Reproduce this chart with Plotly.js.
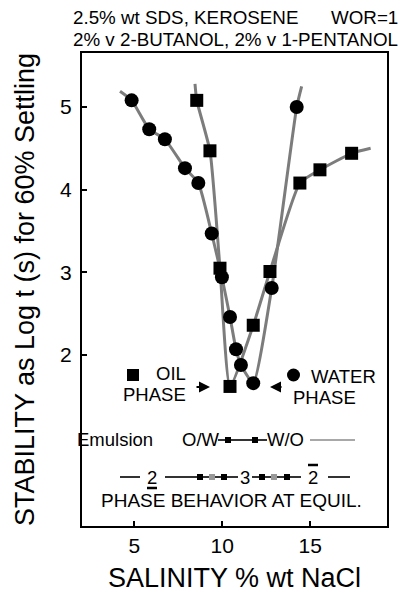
<!DOCTYPE html>
<html>
<head>
<meta charset="utf-8">
<script src="https://cdn.plot.ly/plotly-3.0.1.min.js"></script>
<style>html,body{margin:0;padding:0;background:#fff;}#chart{width:401px;height:593px;}</style>
</head>
<body>
<div id="chart"></div>
<script>
// ---- data ----
// Oil phase (squares)
const oilX = [8.55, 9.30, 9.87, 10.44, 11.76, 12.71, 14.41, 15.55, 17.35];
const oilY = [5.08, 4.47, 3.05, 1.62, 2.36, 3.01, 4.08, 4.24, 4.44];
const oilLineStart = [8.45, 5.28];
const oilLineEnd = [18.43, 4.50];
// Water phase (circles)
const waterX = [4.85, 5.85, 6.74, 7.88, 8.64, 9.40, 9.98, 10.44, 10.78, 11.06, 11.76, 12.81, 14.23];
const waterY = [5.08, 4.73, 4.61, 4.26, 4.08, 3.47, 2.94, 2.46, 2.07, 1.88, 1.66, 2.81, 5.00];
const waterLineStart = [4.19, 5.19];
const waterLineEnd = [14.51, 5.25];
// ticks
const xTicks = [5, 10, 15];
const yTicks = [2, 3, 4, 5];

// ---- layout helpers (pixel -> paper) ----
const L = 82, R = 387, T = 53, B = 526;
const W = R - L, H = B - T;
const px = v => (v - L) / W;
const py = v => (B - v) / H;

const FONT = 'Liberation Sans, Arial, Helvetica, sans-serif';
const lineColor = '#7c7c7c';

const traces = [
  {x: [oilLineStart[0]].concat(oilX, [oilLineEnd[0]]),
   y: [oilLineStart[1]].concat(oilY, [oilLineEnd[1]]),
   mode: 'lines', line: {color: lineColor, width: 3, shape: 'spline', smoothing: 0.5},
   hoverinfo: 'skip', name: 'oil curve'},
  {x: [waterLineStart[0]].concat(waterX, [waterLineEnd[0]]),
   y: [waterLineStart[1]].concat(waterY, [waterLineEnd[1]]),
   mode: 'lines', line: {color: lineColor, width: 3, shape: 'spline', smoothing: 0.5},
   hoverinfo: 'skip', name: 'water curve'},
  {x: oilX, y: oilY, mode: 'markers', name: 'OIL PHASE',
   marker: {symbol: 'square', size: 13, color: '#000'}},
  {x: waterX, y: waterY, mode: 'markers', name: 'WATER PHASE',
   marker: {symbol: 'circle', size: 14, color: '#000'}}
];

function txt(text, x, y, xanchor, size) {
  return {text: text, xref: 'paper', yref: 'paper', x: px(x), y: py(y),
          xanchor: xanchor || 'left', yanchor: 'middle', showarrow: false,
          borderpad: 0, borderwidth: 0,
          font: {family: FONT, size: size || 18.5, color: '#000'}};
}
function arrow(xTip, y, dx) {
  return {text: '', xref: 'paper', yref: 'paper', x: px(xTip), y: py(y),
          showarrow: true, ax: dx, ay: 0, arrowhead: 2, arrowsize: 1.1,
          arrowwidth: 2, arrowcolor: '#000'};
}

const annotations = [
  txt('2.5% wt SDS, KEROSENE', 73, 17.5, 'left', 18.8),
  txt('WOR=1', 398, 17.5, 'right', 18.8),
  txt('2% v 2-BUTANOL, 2% v 1-PENTANOL', 73, 39, 'left', 18.8),
  txt('OIL', 186, 373, 'right'),
  txt('PHASE', 186, 394, 'right'),
  txt('WATER', 311, 376, 'left'),
  txt('PHASE', 293, 397, 'left'),
  arrow(210, 387, -15),
  arrow(270, 387, 13),
  txt('Emulsion', 77, 440, 'left'),
  txt('O/W', 182, 440, 'left'),
  txt('W/O', 267, 440, 'left'),
  txt('2', 152, 477, 'center'),
  txt('3', 245, 477, 'center'),
  txt('2', 313, 477, 'center'),
  txt('PHASE BEHAVIOR AT EQUIL.', 231, 500, 'center', 19)
];

function hline(x0, x1, y, color, w) {
  return {type: 'line', xref: 'paper', yref: 'paper', x0: px(x0), x1: px(x1),
          y0: py(y), y1: py(y), line: {color: color, width: w || 2}};
}
function sq(xc, yc, s, color) {
  return {type: 'rect', xref: 'paper', yref: 'paper',
          x0: px(xc - s / 2), x1: px(xc + s / 2), y0: py(yc + s / 2), y1: py(yc - s / 2),
          fillcolor: color, line: {width: 0}};
}

const shapes = [
  // symbol keys
  sq(133, 375, 12, '#000'),
  {type: 'circle', xref: 'paper', yref: 'paper', x0: px(287), x1: px(300), y0: py(381.5), y1: py(368.5),
   fillcolor: '#000', line: {width: 0}},
  // emulsion row
  hline(218, 267, 440, '#333', 2),
  sq(228, 440, 6, '#000'), sq(255, 440, 6, '#000'),
  hline(310, 355, 440, '#a8a8a8', 2),
  // phase behaviour row
  hline(120, 140, 477, '#333', 2),
  hline(147, 157, 488, '#000', 2.5),
  hline(165, 238, 477, '#333', 2),
  sq(200, 477, 6, '#000'), sq(212, 477, 6, '#999'), sq(224, 477, 6, '#000'),
  hline(252, 301, 477, '#333', 2),
  sq(262, 477, 6, '#000'), sq(274, 477, 6, '#999'), sq(287, 477, 6, '#000'),
  hline(308, 318, 465, '#000', 2.5),
  hline(328, 350, 477, '#333', 2)
];

const layout = {
  width: 401, height: 593,
  margin: {l: L, r: 401 - R, t: T, b: 593 - B, pad: 0},
  paper_bgcolor: '#fff', plot_bgcolor: '#fff',
  showlegend: false,
  font: {family: FONT, color: '#000'},
  xaxis: {
    range: [2.03, 19.36], tickvals: xTicks, ticks: 'inside', ticklen: 5, tickwidth: 2,
    tickcolor: '#000', showgrid: false, zeroline: false, showline: true, mirror: true,
    linecolor: '#000', linewidth: 2, tickfont: {size: 21, family: FONT}, ticklabelstandoff: 0,
    title: {text: 'SALINITY % wt NaCl', font: {size: 27, family: FONT}, standoff: 13}
  },
  yaxis: {
    range: [-0.068, 5.653], tickvals: yTicks, ticks: 'inside', ticklen: 5, tickwidth: 2,
    tickcolor: '#000', showgrid: false, zeroline: false, showline: true, mirror: true,
    linecolor: '#000', linewidth: 2, tickfont: {size: 21, family: FONT}, ticklabelstandoff: 4,
    title: {text: 'STABILITY as Log t (s) for 60% Settling', font: {size: 27, family: FONT}, standoff: 18}
  },
  annotations: annotations,
  shapes: shapes
};

Plotly.newPlot('chart', traces, layout, {staticPlot: true, displayModeBar: false});
</script>
</body>
</html>
